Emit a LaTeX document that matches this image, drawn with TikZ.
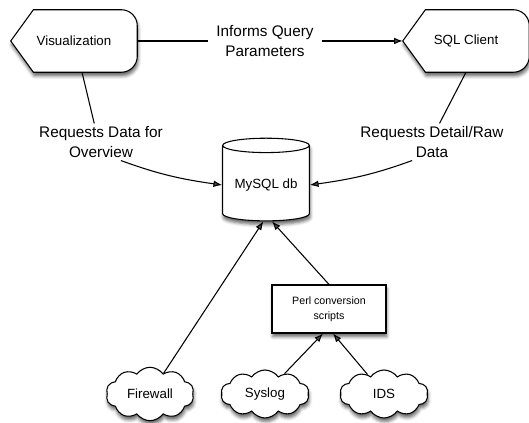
\documentclass[tikz,border=0pt]{standalone}
\usepackage{fontspec}
\setmainfont{Liberation Sans}
\usetikzlibrary{shapes.geometric, shapes.symbols, arrows.meta, positioning, shadows.blur}

% display node: pointed left end, rounded right end
\newcommand{\displaynode}[3]{%
  \path (#2) node[display] (#1) {};
  \draw[outline] (#1.west) -- ([xshift=17pt]#1.north west)
    -- ([xshift=-12pt]#1.north east) arc[start angle=90, end angle=0, radius=12pt]
    -- ([yshift=12pt]#1.south east) arc[start angle=0, end angle=-90, radius=12pt]
    -- ([xshift=17pt]#1.south west) -- cycle;
  \node[display] (#1-text) at (#1) {#3};}

\begin{document}
\begin{tikzpicture}[
    x=0.75pt, y=0.75pt,
    soft/.style={blur shadow={shadow xshift=0.6pt, shadow yshift=-2.8pt, shadow blur radius=2.4pt, shadow opacity=60}},
    outline/.style={draw, line width=0.8pt, fill=white, soft},
    display/.style={minimum width=94.5pt, minimum height=46.5pt, inner sep=0pt, font=\fontsize{10}{12}\selectfont},
    db/.style={cylinder, shape border rotate=90, aspect=0.2, draw, line width=0.8pt, fill=white, soft, minimum width=65pt, minimum height=62pt, font=\fontsize{10}{12}\selectfont},
    script/.style={draw, line width=0.8pt, fill=white, soft, minimum width=85.5pt, minimum height=36pt, align=center, font=\fontsize{8}{11}\selectfont},
    source/.style={cloud, cloud puffs=10, cloud puff arc=110, aspect=1.8, draw, line width=0.8pt, fill=white, soft, minimum width=66pt, minimum height=36pt, font=\fontsize{10}{12}\selectfont},
    lbl/.style={align=center, inner xsep=6pt, inner ysep=2pt, font=\fontsize{11.5}{15}\selectfont},
    arrow/.style={-{Latex[length=6.5pt, width=5pt]}, line width=0.8pt}
]
    \useasboundingbox (0,0) rectangle (529,423);

    % front ends
    \displaynode{vis}{74,382}{Visualization}
    \displaynode{sql}{466,382}{SQL Client}

    % database and loaders
    \node[db] (mysql) at (266,238) {MySQL db};
    \node[script] (perl) at (329,114) {Perl conversion\\scripts};
    \node[source] (fw) at (150,29) {Firewall};
    \node[source] (sys) at (265,29) {Syslog};
    \node[source] (ids) at (384,29) {IDS};

    % labels
    \node[lbl] (informs) at (265,382) {Informs Query\\Parameters};
    \node[lbl] (reqov) at (101,281) {Requests Data for\\Overview};
    \node[lbl] (reqdt) at (432,281) {Requests Detail/Raw\\Data};

    % Connections
    \draw[line width=0.8pt] (vis) -- (informs);
    \draw[arrow] (informs) -- (sql);
    \draw[line width=0.8pt] ([xshift=6pt]vis.south) -- (reqov.110);
    \draw[line width=0.8pt] (sql.south) -- (reqdt.68);
    \draw[arrow] (reqov.-43) to[out=-20, in=172] (mysql.west);
    \draw[arrow] (reqdt.-137) to[out=200, in=8] (mysql.east);
    \draw[arrow] (fw) -- ([xshift=-2pt]mysql.south);
    \draw[arrow] (perl.north) -- ([xshift=4.5pt]mysql.south);
    \draw[arrow] (sys) -- ([xshift=-4.5pt]perl.south);
    \draw[arrow] (ids) -- ([xshift=3pt]perl.south);
\end{tikzpicture}
\end{document}
